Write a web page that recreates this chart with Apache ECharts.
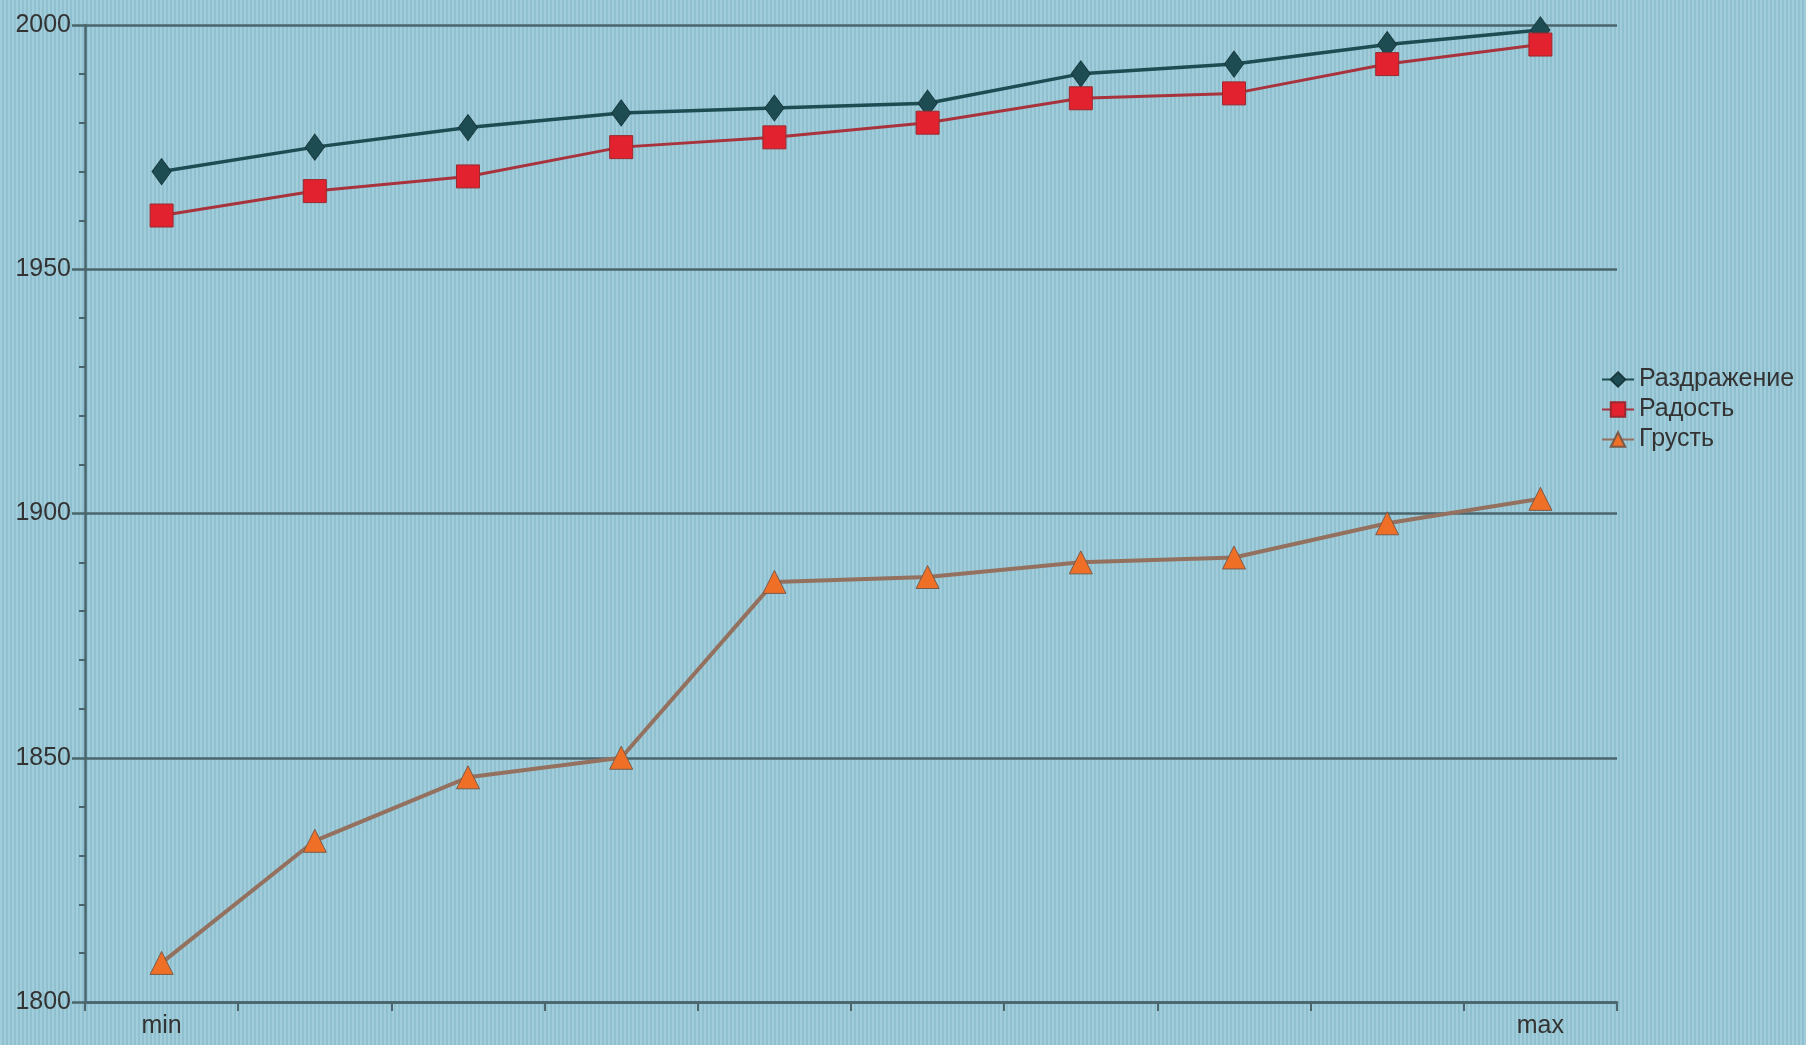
<!DOCTYPE html>
<html>
<head>
<meta charset="utf-8">
<script src="https://cdn.jsdelivr.net/npm/echarts@6/dist/echarts.min.js"></script>
<style>
html,body{margin:0;padding:0;}
body{width:1806px;height:1045px;background-color:#97c7d6;
background-image:repeating-linear-gradient(90deg, rgba(255,255,255,0.10) 0px, rgba(255,255,255,0.10) 2px, rgba(0,60,90,0.05) 2px, rgba(0,60,90,0.05) 4px);}
#chart{width:1806px;height:1045px;}
</style>
</head>
<body>
<div id="chart"></div>
<script>
const categories = ['min','2','3','4','5','6','7','8','9','max'];
const razdrazhenie = [1970, 1975, 1979, 1982, 1983, 1984, 1990, 1992, 1996, 1999];
const radost = [1961, 1966, 1969, 1975, 1977, 1980, 1985, 1986, 1992, 1996];
const grust = [1808, 1833, 1846, 1850, 1886, 1887, 1890, 1891, 1898, 1903];
const seriesNames = ['Раздражение', 'Радость', 'Грусть'];

const chart = echarts.init(document.getElementById('chart'), null, {renderer:'canvas'});
const axisColor = '#4a656c';
chart.setOption({
  backgroundColor: 'transparent',
  animation: false,
  grid: {left: 85, right: 189, top: 25, bottom: 43},
  legend: {
    orient: 'vertical', left: 1596, top: 362, itemGap: 5,
    itemWidth: 32, itemHeight: 18,
    textStyle: {fontFamily: 'Liberation Sans, Arial', fontSize: 25, color: '#333'},
    data: seriesNames
  },
  xAxis: {
    type: 'category', data: categories, boundaryGap: true,
    axisLine: {lineStyle: {color: axisColor, width: 2.5}},
    axisTick: {show: true, length: 9, lineStyle: {color: axisColor, width: 2}},
    axisLabel: {
      fontFamily: 'Liberation Sans, Arial', fontSize: 25, color: '#333', margin: 12,
      interval: 0,
      formatter: function (v) { return (v === 'min' || v === 'max') ? v : ''; }
    }
  },
  yAxis: {
    type: 'value', min: 1800, max: 2000, interval: 50,
    axisLine: {show: true, lineStyle: {color: axisColor, width: 2.5}},
    axisTick: {show: true, length: 13, lineStyle: {color: axisColor, width: 2.5}},
    minorTick: {show: true, splitNumber: 5, length: 6, lineStyle: {color: axisColor, width: 2}},
    splitLine: {show: true, lineStyle: {color: axisColor, width: 2.5}},
    axisLabel: {fontFamily: 'Liberation Sans, Arial', fontSize: 25, color: '#333', margin: 14,
      formatter: function (v) { return String(v); }}
  },
  series: [
    {
      name: seriesNames[0], type: 'line', data: razdrazhenie,
      symbol: 'diamond', symbolSize: [19, 26],
      lineStyle: {color: '#1e4c53', width: 3.5},
      itemStyle: {color: '#1e4c53', borderColor: '#17393e', borderWidth: 1}
    },
    {
      name: seriesNames[1], type: 'line', data: radost,
      symbol: 'rect', symbolSize: 23,
      lineStyle: {color: '#a8333c', width: 3},
      itemStyle: {color: '#e2222e', borderColor: '#9a2a30', borderWidth: 1}
    },
    {
      name: seriesNames[2], type: 'line', data: grust,
      symbol: 'triangle', symbolSize: 23,
      lineStyle: {color: '#94705f', width: 4},
      itemStyle: {color: '#ef6f26', borderColor: '#7a5a4a', borderWidth: 1}
    }
  ]
});
</script>
</body>
</html>
